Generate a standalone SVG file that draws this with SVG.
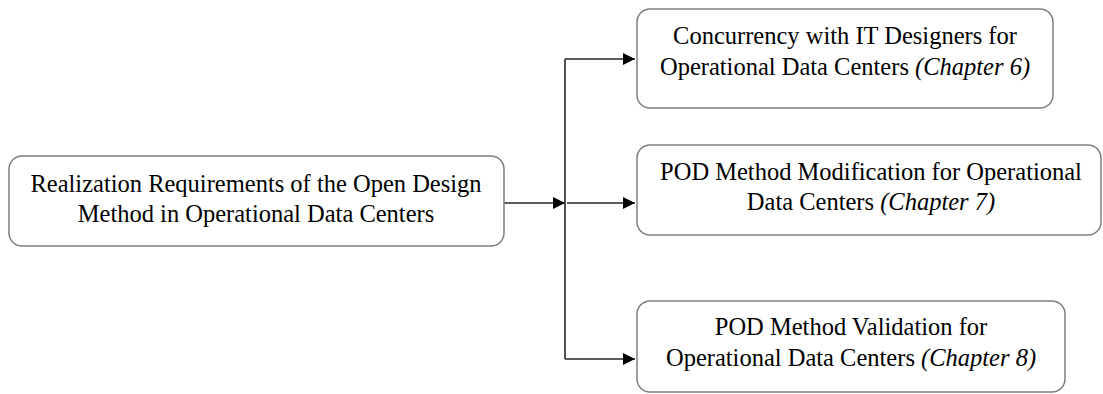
<svg xmlns="http://www.w3.org/2000/svg" width="1103" height="394" viewBox="0 0 1103 394">
  <style>
    .box { fill: #ffffff; stroke: #7f7f7f; stroke-width: 1.5; }
    .lbl { font-family: "Liberation Serif", "Times New Roman", serif; font-size: 24.5px; fill: #000000; text-anchor: middle; }
    .it { font-style: italic; }
    .wire { fill: none; stroke: #262626; stroke-width: 1.6; }
  </style>
  <defs>
    <marker id="arrow" viewBox="0 0 10 10" refX="10" refY="5" markerWidth="15" markerHeight="12" markerUnits="userSpaceOnUse" orient="auto">
      <path d="M0,0 L10,5 L0,10 Z" fill="#000000"/>
    </marker>
  </defs>
  <rect width="1103" height="394" fill="#ffffff"/>

  <g id="connectors">
    <line class="wire" x1="504" y1="203" x2="565" y2="203" marker-end="url(#arrow)"/>
    <line class="wire" x1="565" y1="59" x2="565" y2="359"/>
    <line class="wire" x1="565" y1="59" x2="635" y2="59" marker-end="url(#arrow)"/>
    <line class="wire" x1="567" y1="203" x2="635" y2="203" marker-end="url(#arrow)"/>
    <line class="wire" x1="565" y1="359" x2="635" y2="359" marker-end="url(#arrow)"/>
  </g>

  <g id="realization-requirements">
    <rect class="box" x="9" y="156" width="495" height="90" rx="13"/>
    <text class="lbl" x="256" y="192">Realization Requirements of the Open Design</text>
    <text class="lbl" x="256" y="222">Method in Operational Data Centers</text>
  </g>

  <g id="concurrency">
    <rect class="box" x="637" y="9" width="416" height="99" rx="13"/>
    <text class="lbl" x="845" y="44">Concurrency with IT Designers for</text>
    <text class="lbl" x="845" y="75">Operational Data Centers <tspan class="it">(Chapter 6)</tspan></text>
  </g>

  <g id="pod-modification">
    <rect class="box" x="637" y="145" width="464" height="90" rx="13"/>
    <text class="lbl" x="871" y="180">POD Method Modification for Operational</text>
    <text class="lbl" x="871" y="210">Data Centers <tspan class="it">(Chapter 7)</tspan></text>
  </g>

  <g id="pod-validation">
    <rect class="box" x="637" y="301" width="428" height="91" rx="13"/>
    <text class="lbl" x="851" y="335">POD Method Validation for</text>
    <text class="lbl" x="851" y="366">Operational Data Centers <tspan class="it">(Chapter 8)</tspan></text>
  </g>
</svg>
